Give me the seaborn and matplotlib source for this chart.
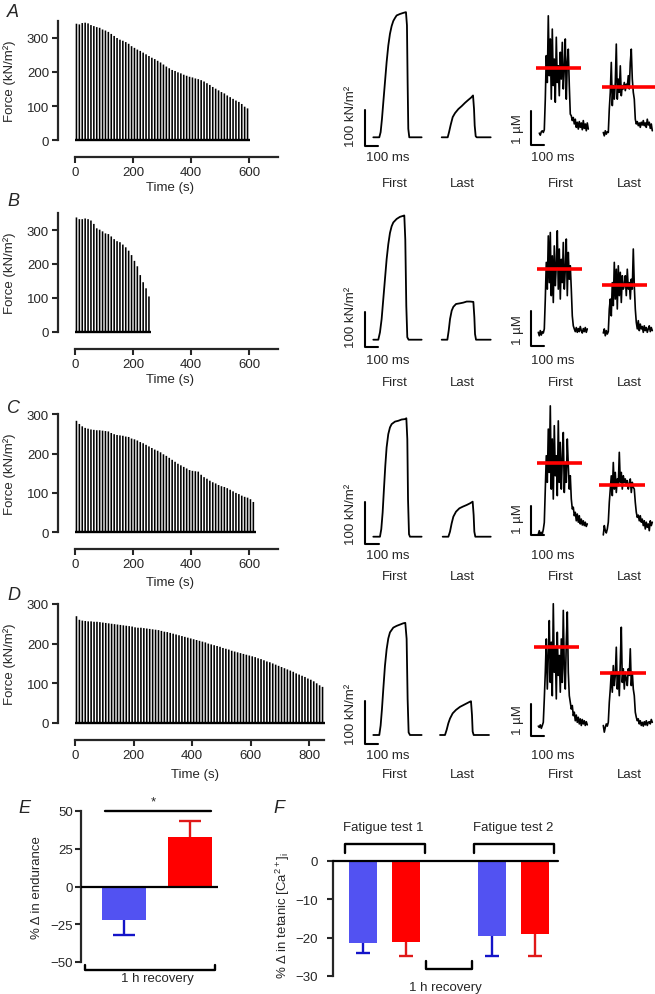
import numpy as np
import pandas as pd
import matplotlib
matplotlib.use("Agg")
import matplotlib.pyplot as plt
import seaborn as sns

# ======================= DATA =======================
# Panels A-D: peak force of each tetanus (kN/m^2); one tetanus every 10 s starting at 5 s
TETANUS_START = 5
TETANUS_INTERVAL = 10
force_A = [342, 340, 344, 345, 343, 338, 335, 332, 330, 325, 322, 318, 312, 306, 300, 295, 292, 288, 283, 276,
           271, 266, 262, 257, 252, 247, 242, 238, 233, 228, 222, 216, 211, 206, 203, 199, 196, 192, 189, 186,
           184, 181, 179, 176, 172, 167, 162, 156, 151, 146, 141, 137, 131, 126, 121, 116, 112, 106, 98, 93]
force_B = [337, 332, 332, 334, 332, 328, 318, 305, 301, 296, 290, 288, 281, 273, 267, 264, 257, 249, 239, 226,
           209, 193, 167, 146, 128, 104]
force_C = [283, 275, 269, 265, 263, 261, 260, 259, 259, 258, 257, 256, 252, 249, 247, 246, 245, 243, 242, 238,
           236, 233, 229, 226, 222, 218, 214, 210, 207, 203, 198, 194, 189, 184, 179, 174, 170, 166, 162, 158,
           156, 155, 154, 146, 140, 136, 131, 127, 124, 120, 117, 115, 112, 108, 104, 100, 97, 93, 90, 88,
           84, 77]
force_D = [269, 260, 258, 257, 256, 256, 255, 255, 254, 253, 252, 251, 250, 249, 248, 247, 246, 245, 244, 243,
           241, 240, 240, 239, 238, 237, 236, 235, 234, 232, 230, 229, 227, 225, 223, 221, 219, 217, 215, 213,
           211, 209, 207, 205, 203, 200, 198, 196, 194, 192, 189, 187, 185, 182, 180, 178, 176, 174, 172, 170,
           168, 166, 163, 161, 158, 155, 153, 150, 147, 144, 141, 138, 135, 132, 129, 125, 122, 119, 116, 112,
           109, 105, 100, 95, 91]

# Force traces of first and last tetanus: time (ms), force (kN/m^2)
trA_first_t = [0, 45, 55, 65, 75, 87.5, 100, 112.5, 125, 137.5, 150, 162.5, 175, 200, 225, 245, 252.5, 257.5, 262.5, 270, 362.5]
trA_first_f = [0, 0, 14, 50, 95, 150, 205, 250, 282, 303, 317, 325, 332, 336, 339, 341, 305, 150, 23, 0, 0]
trA_last_t = [0, 45, 55, 67.5, 82.5, 100, 125, 150, 175, 200, 220, 235, 242.5, 247.5, 255, 262.5, 367.5]
trA_last_f = [0, 0, 14, 34, 55, 66, 77, 85, 94, 102, 108, 114, 77, 32, 3, 0, 0]
trB_first_t = [0, 37.5, 50, 62.5, 75, 87.5, 100, 112.5, 125, 137.5, 150, 175, 200, 225, 232.5, 240, 247.5, 255, 265, 362.5]
trB_first_f = [0, 0, 21, 59, 116, 173, 230, 273, 305, 324, 335, 345, 351, 354, 355, 286, 97, 7, 0, 0]
trB_last_t = [0, 42.5, 52.5, 62.5, 75, 87.5, 107.5, 137.5, 162.5, 187.5, 212.5, 237.5, 245, 250, 257.5, 367.5]
trB_last_f = [0, 0, 26, 59, 83, 94, 102, 104, 106, 109, 109, 108, 64, 16, 0, 0]
trC_first_t = [0, 47.6, 57, 66.7, 76, 85.7, 95, 107, 119, 131, 155, 178.6, 202, 226, 236, 243, 248, 255, 262, 345]
trC_first_f = [0, 0, 18, 58, 114, 170, 214, 246, 262, 270, 276, 278, 281, 282, 284, 234, 90, 6, 0, 0]
trC_last_t = [0, 40.5, 52, 64, 76, 95, 119, 143, 171, 195, 214, 221, 226, 233, 343]
trC_last_f = [0, 0, 12, 32, 48, 60, 68, 72, 76, 80, 84, 52, 12, 0, 0]
trD_first_t = [0, 45, 55, 65, 75, 87.5, 100, 112.5, 125, 150, 175, 200, 225, 240, 250, 257.5, 265, 275, 362.5]
trD_first_f = [0, 0, 22, 60, 106, 160, 198, 223, 237, 248, 252, 255, 258, 259, 222, 83, 6, 0, 0]
trD_last_t = [0, 37.5, 50, 62.5, 75, 95, 120, 150, 175, 200, 225, 232.5, 240, 245, 252.5, 367.5]
trD_last_f = [0, 0, 12, 27, 38, 50, 58, 65, 69, 73, 77, 78, 46, 8, 0, 0]

# [Ca2+]i traces (uM), sampled every 7.5 ms
CA_DT = 7.5
caA_first = [0.34, 0.28, 0.38, 0.41, 0.36, 0.44, 1.34, 2.62, 1.83, 3.79, 2.03, 3.11, 1.34, 3.40, 1.74, 2.52, 1.25, 3.16, 1.83, 2.32,
             1.44, 2.72, 1.93, 3.01, 1.64, 2.23, 3.11, 1.34, 2.42, 2.81, 1.74, 0.90, 0.85, 0.71, 0.80, 0.61, 0.75, 0.51, 0.66, 0.46,
             0.68, 0.51, 0.64, 0.44, 0.71, 0.48, 0.61, 0.41, 0.64, 0.46]
caA_last = [0.36, 0.26, 0.41, 0.31, 0.38, 0.36, 1.05, 1.54, 2.42, 1.15, 1.74, 1.34, 1.83, 2.96, 1.34, 1.93, 1.54, 2.32, 1.44, 1.74,
            1.64, 1.83, 1.59, 1.78, 1.69, 2.03, 1.64, 2.42, 2.81, 1.93, 1.54, 1.34, 0.75, 0.61, 0.68, 0.56, 0.64, 0.51, 0.66, 0.58,
            0.71, 0.56, 0.64, 0.51, 0.75, 0.58, 0.66, 0.48, 0.61, 0.41]
caB_first = [0.39, 0.29, 0.44, 0.31, 0.41, 0.37, 0.49, 1.36, 2.43, 1.65, 3.20, 1.84, 3.30, 1.46, 2.62, 1.26, 2.91, 1.75, 2.33, 3.35,
             1.65, 2.82, 1.36, 2.52, 1.84, 3.01, 1.65, 2.23, 3.11, 1.46, 2.72, 1.94, 2.33, 1.65, 0.87, 0.58, 0.49, 0.41, 0.53, 0.39,
             0.50, 0.41, 0.56, 0.44, 0.37, 0.50, 0.41, 0.53, 0.39, 0.49]
caB_last = [0.37, 0.49, 0.29, 0.44, 0.34, 0.41, 1.07, 1.36, 0.87, 1.84, 1.17, 2.43, 1.36, 2.23, 1.07, 2.33, 1.46, 2.14, 1.26, 2.04,
            1.65, 1.75, 2.04, 1.46, 2.23, 1.65, 1.84, 1.36, 1.94, 1.65, 2.82, 1.75, 1.07, 0.68, 0.49, 0.73, 0.44, 0.63, 0.49, 0.56,
            0.39, 0.58, 0.44, 0.53, 0.39, 0.49, 0.58, 0.41, 0.53, 0.44]
caC_first = [0.29, 0.41, 0.26, 0.35, 0.30, 0.45, 0.70, 1.88, 3.06, 2.12, 4.00, 2.47, 4.82, 1.88, 3.65, 1.53, 4.12, 2.35, 3.06, 1.65,
             4.29, 2.12, 3.53, 1.88, 2.94, 3.88, 1.76, 2.82, 2.12, 3.65, 2.71, 1.88, 2.35, 1.53, 1.18, 1.24, 0.94, 1.06, 0.76, 1.00,
             0.71, 0.94, 0.65, 0.82, 0.61, 0.76, 0.59, 0.71, 0.56, 0.65]
caC_last = [0.26, 0.59, 0.41, 0.33, 0.47, 0.71, 1.41, 1.88, 2.35, 1.65, 2.82, 1.88, 2.47, 1.76, 2.24, 2.00, 3.18, 2.12, 2.47, 1.88,
            2.35, 2.12, 2.24, 2.00, 2.18, 1.88, 2.06, 2.24, 1.76, 2.12, 1.94, 1.88, 1.41, 1.06, 0.88, 0.96, 0.76, 0.94, 0.71, 0.82,
            0.59, 0.76, 0.47, 0.71, 0.53, 0.65, 0.41, 0.76, 0.59, 0.71]
caD_first = [0.51, 0.47, 0.55, 0.44, 0.53, 0.63, 1.37, 2.21, 3.26, 1.68, 2.74, 3.84, 1.89, 3.16, 1.47, 4.37, 2.21, 2.95, 1.37, 3.47,
             2.11, 2.74, 1.58, 3.26, 1.89, 4.16, 2.32, 1.68, 3.16, 4.11, 2.21, 1.47, 1.26, 1.05, 1.16, 0.84, 0.95, 0.68, 0.86, 0.63,
             0.79, 0.58, 0.74, 0.53, 0.72, 0.58, 0.68, 0.53, 0.65, 0.55]
caD_last = [0.53, 0.32, 0.47, 0.58, 0.51, 0.63, 1.26, 1.68, 2.21, 1.58, 2.42, 1.79, 2.11, 3.00, 1.68, 2.21, 1.47, 2.53, 3.63, 1.89,
            2.32, 1.68, 2.21, 2.00, 1.79, 2.32, 2.11, 2.95, 1.79, 2.21, 1.68, 1.47, 0.95, 0.79, 0.68, 0.74, 0.58, 0.68, 0.53, 0.63,
            0.51, 0.65, 0.55, 0.68, 0.53, 0.63, 0.65, 0.58, 0.72, 0.63]
# mean tetanic [Ca2+]i (red lines), first / last
ca_mean_first = {"A": 2.27, "B": 2.23, "C": 2.80, "D": 3.02}
ca_mean_last = {"A": 1.71, "B": 1.77, "C": 2.01, "D": 2.18}

# Panel E: % change in endurance after 1 h recovery
e_groups = ["Control", "Treated"]
e_values = [-22.5, 32.5]
e_sem = [9.3, 11.2]

# Panel F: % change in tetanic [Ca2+]i
f_conds = ["Test 1 control", "Test 1 treated", "Test 2 control", "Test 2 treated"]
f_groups = ["Control", "Treated", "Control", "Treated"]
f_values = [-21.3, -21.0, -19.5, -19.0]
f_sem = [2.6, 3.7, 5.2, 5.9]
f_order = ["Test 1 control", "Test 1 treated", "Recovery", "Test 2 control", "Test 2 treated"]

# ======================= STYLE =======================
sns.set_style("ticks")
plt.rcParams["font.family"] = ["Liberation Sans", "DejaVu Sans"]
plt.rcParams["mathtext.default"] = "regular"
BLUE = "#5252F2"
BLUE_ERR = "#1414C8"
RED = "#FF0000"
RED_ERR = "#E01818"
FS = 9.5
TICK_W = 1.5

W, H = 655, 995
fig = plt.figure(figsize=(W / 100, H / 100), dpi=100)


def px_axes(l, t, r, b):
    return fig.add_axes([l / W, 1 - b / H, (r - l) / W, (b - t) / H])


def map_axes(ax, l, t, r, b, x0px, sx, y0px, sy):
    ax.set_xlim((l - x0px) / sx, (r - x0px) / sx)
    ax.set_ylim((y0px - b) / sy, (y0px - t) / sy)


def ftext(x, y, s, **kw):
    kw.setdefault("fontsize", FS)
    fig.text(x / W, 1 - y / H, s, **kw)


def one_sided_err(ax, x, v, s, color, half_cap):
    end = v + s if v > 0 else v - s
    ax.plot([x, x], [v, end], color=color, lw=1.7, zorder=1, solid_capstyle="butt")
    ax.plot([x - half_cap, x + half_cap], [end, end], color=color, lw=1.7, zorder=1,
            solid_capstyle="butt")


rows = [
    dict(key="A", force=force_A, letter_y=17, y0=141, fsc=0.34, ftop=350, xend=700, xr=278,
         xticks=[0, 200, 400, 600], xlab_y=188, xlab_x=170,
         tb=138.3, tsx=0.1333, tsy=0.367, tbar=147.3, fpx=373.3, lpx=441.7,
         first=(trA_first_t, trA_first_f), last=(trA_last_t, trA_last_f),
         ca=(caA_first, caA_last), caref=145.7, casy=34.0, cabase=0.0, cafpx=539.3, calpx=603.3,
         redf=(535.7, 580.7), redl=(601.7, 655), ms_y=158, fl_y=184),
    dict(key="B", force=force_B, letter_y=206, y0=332.7, fsc=0.339, ftop=350, xend=700, xr=278,
         xticks=[0, 200, 400, 600], xlab_y=380, xlab_x=170,
         tb=340.7, tsx=0.1333, tsy=0.35, tbar=348.0, fpx=373.3, lpx=441.7,
         first=(trB_first_t, trB_first_f), last=(trB_last_t, trB_last_f),
         ca=(caB_first, caB_last), caref=346.7, casy=34.3, cabase=0.0, cafpx=538.3, calpx=603.3,
         redf=(536.7, 582.3), redl=(601.7, 646.7), ms_y=361, fl_y=383),
    dict(key="C", force=force_C, letter_y=413, y0=533.3, fsc=0.394, ftop=300, xend=700, xr=278,
         xticks=[0, 200, 400, 600], xlab_y=583, xlab_x=170,
         tb=537.7, tsx=0.14, tsy=0.417, tbar=545.0, fpx=373.3, lpx=442.7,
         first=(trC_first_t, trC_first_f), last=(trC_last_t, trC_last_f),
         ca=(caC_first, caC_last), caref=543.3, casy=28.3, cabase=0.27, cafpx=538.3, calpx=603.3,
         redf=(536.7, 582.3), redl=(599.3, 645.0), ms_y=556, fl_y=577),
    dict(key="D", force=force_D, letter_y=600, y0=724, fsc=0.397, ftop=300, xend=850, xr=324,
         xticks=[0, 200, 400, 600, 800], xlab_y=775, xlab_x=195,
         tb=736, tsx=0.1333, tsy=0.433, tbar=745.0, fpx=373.3, lpx=440.0,
         first=(trD_first_t, trD_first_f), last=(trD_last_t, trD_last_f),
         ca=(caD_first, caD_last), caref=743.3, casy=31.7, cabase=0.21, cafpx=538.3, calpx=603.3,
         redf=(534.0, 579.3), redl=(600.0, 645.7), ms_y=756, fl_y=775),
]

SPINE_LW = 1.6
for r in rows:
    # ---------- force bar chart ----------
    vals = r["force"]
    times = TETANUS_START + TETANUS_INTERVAL * np.arange(len(vals))
    sxp = (r["xr"] - 75) / r["xend"]
    top = r["y0"] - r["ftop"] * r["fsc"]
    ax = px_axes(58, top, r["xr"], r["y0"])
    sns.barplot(x=times, y=vals, native_scale=True, width=0.55, color="black",
                saturation=1, errorbar=None, linewidth=0, ax=ax)
    for p in ax.patches:
        p.set_snap(False)
    ax.plot([0, times[-1] + 8], [0, 0], color="black", lw=1.7, clip_on=False, solid_capstyle="butt")
    ax.set_xlim(-(75 - 58) / sxp, r["xend"])
    ax.set_ylim(0, r["ftop"])
    sns.despine(ax=ax)
    ax.spines["bottom"].set_position(("outward", 12.2))
    ax.spines["bottom"].set_bounds(0, r["xend"])
    ax.spines["left"].set_bounds(0, r["ftop"])
    for s in ("left", "bottom"):
        ax.spines[s].set_linewidth(SPINE_LW)
    ax.set_xticks(r["xticks"])
    ax.set_yticks([0, 100, 200, 300])
    ax.tick_params(width=TICK_W, length=4, labelsize=FS, pad=2.5)
    ax.set_xlabel("")
    ax.set_ylabel("")
    ftext(10, (top + r["y0"]) / 2, "Force (kN/m²)", rotation=90, ha="center", va="center")
    ftext(r["xlab_x"], r["xlab_y"], "Time (s)", ha="center", va="center")
    ftext(7, r["letter_y"], r["key"], fontsize=13, style="italic", ha="left", va="baseline")

    # ---------- force traces ----------
    axt = px_axes(340, r["tb"] - 140, 500, r["tb"] + 25)
    axt.axis("off")
    map_axes(axt, 340, r["tb"] - 140, 500, r["tb"] + 25, 365, r["tsx"], r["tb"], r["tsy"])
    for (tt, ff), spx in ((r["first"], r["fpx"]), (r["last"], r["lpx"])):
        off = (spx - 365) / r["tsx"]
        sns.lineplot(x=np.asarray(tt) + off, y=ff, color="black", lw=1.3, estimator=None,
                     sort=False, ax=axt)
    bb = (r["tb"] - r["tbar"]) / r["tsy"]
    axt.plot([100, 0, 0], [bb, bb, bb + 100], color="black", lw=1.5, clip_on=False)
    ftext(351, r["tbar"], "100 kN/m²", rotation=90, ha="center", va="bottom")
    ftext(366, r["ms_y"], "100 ms", ha="left", va="center")
    ftext(395, r["fl_y"], "First", ha="center", va="center")
    ftext(462, r["fl_y"], "Last", ha="center", va="center")

    # ---------- Ca traces ----------
    axc = px_axes(500, r["caref"] - 150, 655, r["caref"] + 20)
    axc.axis("off")
    map_axes(axc, 500, r["caref"] - 150, 655, r["caref"] + 20, 531, 0.1333, r["caref"], r["casy"])
    for cav, spx, (rl, rr), m in ((r["ca"][0], r["cafpx"], r["redf"], ca_mean_first[r["key"]]),
                                  (r["ca"][1], r["calpx"], r["redl"], ca_mean_last[r["key"]])):
        off = (spx - 531) / 0.1333
        tt = off + CA_DT * np.arange(len(cav))
        sns.lineplot(x=tt, y=cav, color="black", lw=1.2, estimator=None, sort=False, ax=axc)
        axc.plot([(rl - 531) / 0.1333, (rr - 531) / 0.1333], [m, m], color=RED, lw=2.6,
                 clip_on=False, solid_capstyle="butt", zorder=5)
    cb = r["cabase"]
    axc.plot([100, 0, 0], [cb, cb, cb + 1], color="black", lw=1.5, clip_on=False)
    cab_px = r["caref"] - cb * r["casy"]
    ftext(518, cab_px - 2, "1 µM", rotation=90, ha="center", va="bottom")
    ftext(531, r["ms_y"], "100 ms", ha="left", va="center")
    ftext(561, r["fl_y"], "First", ha="center", va="center")
    ftext(629, r["fl_y"], "Last", ha="center", va="center")

# ======================= PANEL E =======================
axE = px_axes(81, 812, 218, 963)
sns.barplot(x=e_groups, y=e_values, hue=e_groups, palette=[BLUE, RED], width=0.667,
            saturation=1, legend=False, errorbar=None, linewidth=0, ax=axE)
for i, (v, s, c) in enumerate(zip(e_values, e_sem, [BLUE_ERR, RED_ERR])):
    one_sided_err(axE, i, v, s, c, 0.17)
axE.set_xlim(-0.652, 1.424)
axE.set_ylim(-50, 50)
axE.axhline(0, color="black", lw=SPINE_LW, zorder=4)
sns.despine(ax=axE, bottom=True)
axE.spines["left"].set_linewidth(SPINE_LW)
axE.set_xticks([])
axE.set_yticks([-50, -25, 0, 25, 50])
axE.tick_params(axis="y", width=TICK_W, length=4, labelsize=FS, pad=2)
axE.set_xlabel("")
axE.set_ylabel("")
axE.plot([-0.29, 1.32], [50, 50], color="black", lw=1.7, clip_on=False)
ftext(153, 802, "*", ha="center", va="center")
axE.plot([-0.59, -0.59, 1.38, 1.38], [-51.7, -55.6, -55.6, -51.7], color="black", lw=1.7, clip_on=False)
ftext(157, 979, "1 h recovery", ha="center", va="center")
ftext(37, 888, "% Δ in endurance", rotation=90, ha="center", va="center")
ftext(18, 813, "E", fontsize=13, style="italic", ha="left", va="baseline")

# ======================= PANEL F =======================
axF = px_axes(333, 862, 558, 977)
dfF = pd.DataFrame({"cond": f_conds, "group": f_groups, "value": f_values})
sns.barplot(data=dfF, x="cond", y="value", hue="group", order=f_order, dodge=False,
            palette={"Control": BLUE, "Treated": RED}, width=0.65, saturation=1,
            legend=False, errorbar=None, linewidth=0, ax=axF)
for cond, v, s, g in zip(f_conds, f_values, f_sem, f_groups):
    xi = f_order.index(cond)
    one_sided_err(axF, xi, v, s, BLUE_ERR if g == "Control" else RED_ERR, 0.165)
axF.set_xlim(-0.70, 4.53)
axF.set_ylim(-30, 0)
axF.axhline(0, color="black", lw=SPINE_LW, zorder=4, clip_on=False)
sns.despine(ax=axF, bottom=True)
axF.spines["left"].set_linewidth(SPINE_LW)
axF.set_xticks([])
axF.set_yticks([0, -10, -20, -30])
axF.tick_params(axis="y", width=TICK_W, length=4, labelsize=FS, pad=7)
axF.set_xlabel("")
axF.set_ylabel("")
for (a, b) in ((-0.42, 1.44), (2.58, 4.44)):
    axF.plot([a, a, b, b], [2.1, 4.4, 4.4, 2.1], color="black", lw=1.7, clip_on=False)
axF.plot([1.47, 1.47, 2.53, 2.53], [-26.2, -28.05, -28.05, -26.2], color="black", lw=1.7, clip_on=False)
ftext(383, 828, "Fatigue test 1", ha="center", va="center")
ftext(513, 828, "Fatigue test 2", ha="center", va="center")
ftext(445, 988, "1 h recovery", ha="center", va="center")
ftext(283, 915, "% Δ in tetanic [Ca$^{2+}$]$_{i}$", rotation=90, ha="center", va="center")
ftext(273, 813, "F", fontsize=13, style="italic", ha="left", va="baseline")

fig.savefig("out.png", dpi=100)
